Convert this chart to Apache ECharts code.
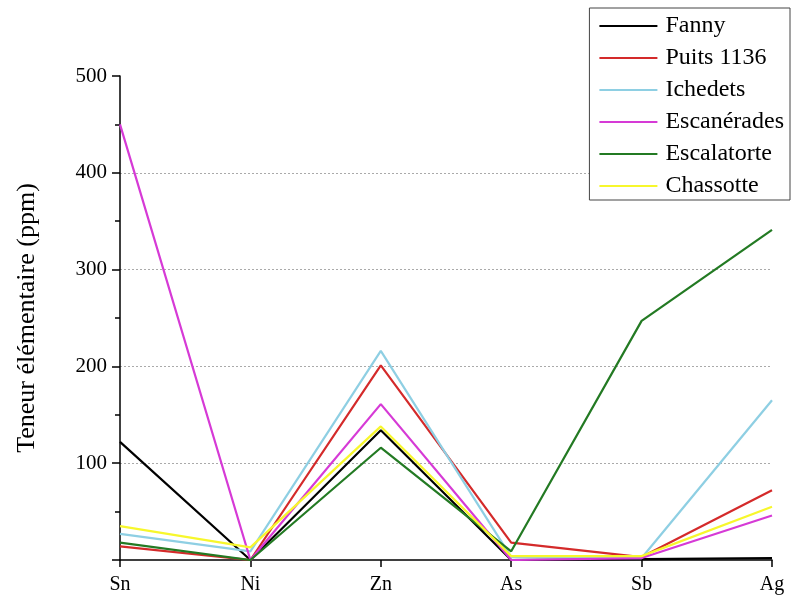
<!DOCTYPE html>
<html><head><meta charset="utf-8">
<script src="https://cdn.jsdelivr.net/npm/echarts@6/dist/echarts.min.js"></script>
<style>html,body{margin:0;padding:0;background:#fff}#c{width:793px;height:599px}</style>
</head><body><div id="c"></div>
<script>
const categories = ['Sn','Ni','Zn','As','Sb','Ag'];
const seriesNames = ['Fanny','Puits 1136','Ichedets','Escanérades','Escalatorte','Chassotte'];
const fanny = [122, 0, 134, 0, 1, 2];
const puits1136 = [14, 0, 201, 18, 3, 72];
const ichedets = [27, 9, 216, 3, 2, 165];
const escanerades = [450, 0, 161, 0, 2, 46];
const escalatorte = [18, 0, 116, 9, 247, 341];
const chassotte = [35, 13, 138, 4, 4, 55];
const yTicks = [0, 100, 200, 300, 400, 500];

const colors = ['#000000','#d42a2a','#8ecfe3','#d63ad6','#237a23','#f7f72c'];
const data = [fanny, puits1136, ichedets, escanerades, escalatorte, chassotte];
const font = '"Liberation Serif","Times New Roman",serif';

const chart = echarts.init(document.getElementById('c'), null, {renderer:'canvas'});
chart.setOption({
  animation: false,
  backgroundColor: '#fff',
  grid: {left: 120, right: 21, top: 76, bottom: 39},
  legend: {
    orient: 'vertical', right: 3, top: 8,
    backgroundColor: '#fff',
    borderColor: '#444', borderWidth: 1,
    padding: [6, 6, 2, 10],
    itemWidth: 58, itemHeight: 2, itemGap: 8, icon: 'rect',
    textStyle: {fontFamily: font, fontSize: 24, lineHeight: 24, color: '#000', padding: [0,0,0,3]},
    data: seriesNames
  },
  xAxis: {
    type: 'category', data: categories, boundaryGap: false,
    axisLine: {lineStyle: {color: '#000', width: 1.5}},
    axisTick: {show: true, length: 7, lineStyle: {color: '#000', width: 1.5}},
    axisLabel: {fontFamily: font, fontSize: 20, color: '#000', margin: 15}
  },
  yAxis: {
    type: 'value', min: yTicks[0], max: yTicks[yTicks.length-1], interval: 100,
    name: 'Teneur élémentaire (ppm)', nameLocation: 'middle', nameGap: 80,
    nameTextStyle: {fontFamily: font, fontSize: 26, color: '#000'},
    axisLine: {show: true, lineStyle: {color: '#000', width: 1.5}},
    axisTick: {show: true, length: 8, lineStyle: {color: '#000', width: 1.5}},
    minorTick: {show: true, splitNumber: 2, length: 5, lineStyle: {color: '#000', width: 1.5}},
    axisLabel: {fontFamily: font, fontSize: 21, color: '#000', margin: 13,
      formatter: v => v === 0 ? '' : String(v)},
    splitLine: {show: true, lineStyle: {type: [2, 2], width: 1,
      color: ['rgba(0,0,0,0)','#aaa','#aaa','#aaa','#aaa','rgba(0,0,0,0)']}}
  },
  series: seriesNames.map((n, i) => ({
    name: n, type: 'line', data: data[i], symbol: 'none',
    lineStyle: {color: colors[i], width: 2.2}, itemStyle: {color: colors[i]},
    z: 2
  }))
});
</script></body></html>
